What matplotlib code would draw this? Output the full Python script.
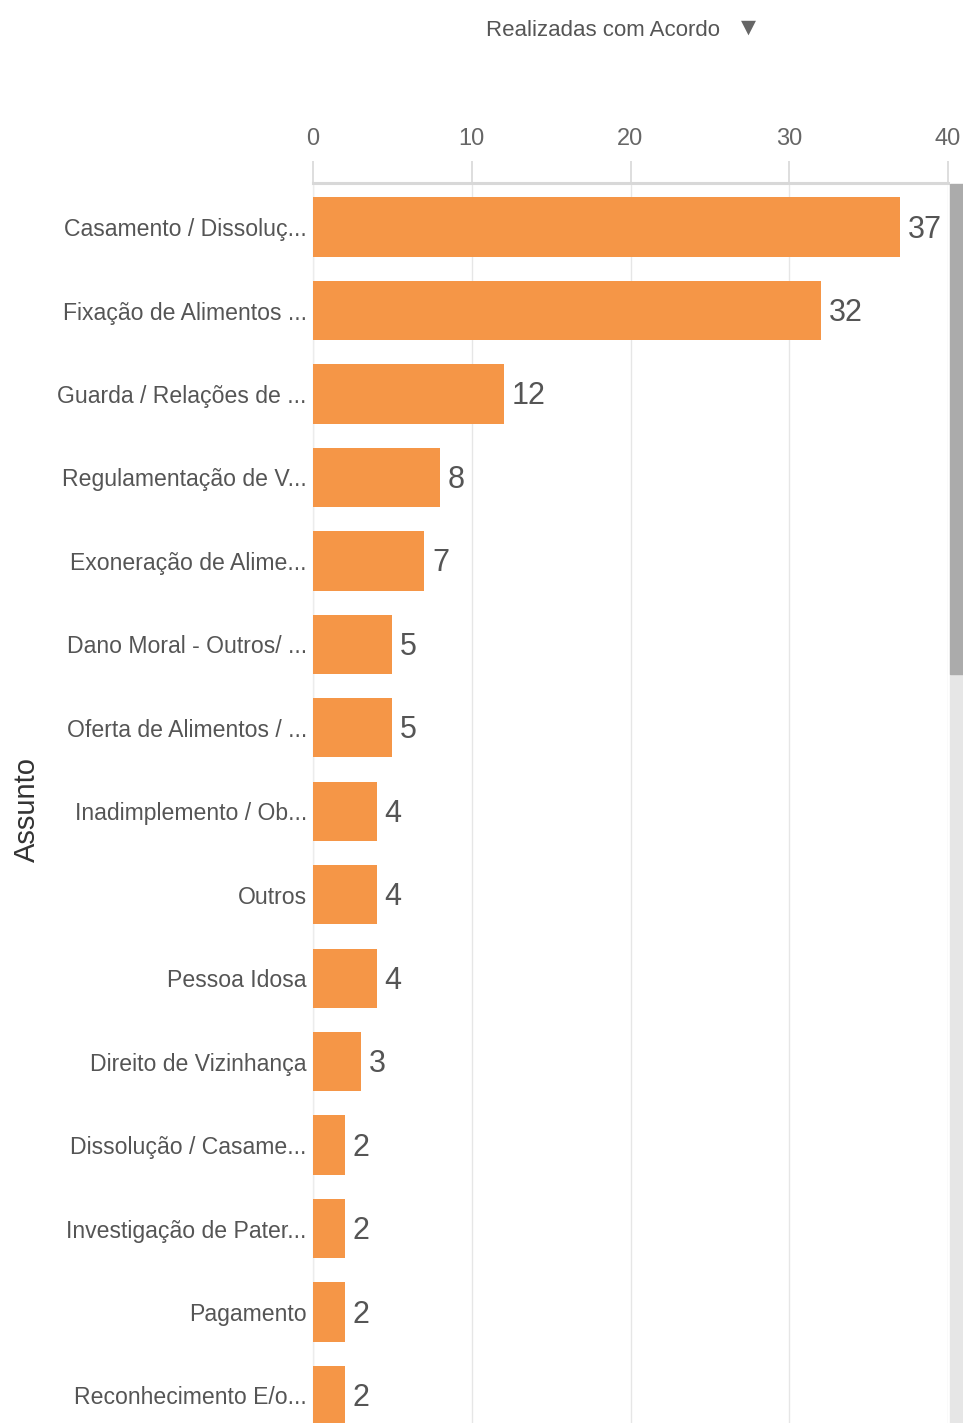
import matplotlib
matplotlib.use("Agg")
import matplotlib.pyplot as plt
from matplotlib import font_manager
from matplotlib.patches import Rectangle

assuntos = [
    "Casamento / Dissoluç...",
    "Fixação de Alimentos ...",
    "Guarda / Relações de ...",
    "Regulamentação de V...",
    "Exoneração de Alime...",
    "Dano Moral - Outros/ ...",
    "Oferta de Alimentos / ...",
    "Inadimplemento / Ob...",
    "Outros",
    "Pessoa Idosa",
    "Direito de Vizinhança",
    "Dissolução / Casame...",
    "Investigação de Pater...",
    "Pagamento",
    "Reconhecimento E/o...",
]
acordos = [37, 32, 12, 8, 7, 5, 5, 4, 4, 4, 3, 2, 2, 2, 2]
xticks = [0, 10, 20, 30, 40]

names = {f.name for f in font_manager.fontManager.ttflist}
narrow = "Liberation Sans Narrow" if "Liberation Sans Narrow" in names else "Liberation Sans"
fam = [narrow, "DejaVu Sans"]
plt.rcParams["font.family"] = fam

W, H = 963, 1423
fig = plt.figure(figsize=(W / 100, H / 100), dpi=100)

# axes: x 0 at px 313, 40 at px 948; top at px 183, bottom at image bottom
ax = fig.add_axes([313 / W, 0, (948 - 313) / W, 1 - 183 / H])

y = list(range(len(assuntos)))
ax.barh(y, acordos, height=0.71, color="#F59647", zorder=3)
ax.set_xlim(0, 40)
ax.set_ylim(14.33, -0.528)

for yi, v in zip(y, acordos):
    ax.text(v + 0.5, yi + 0.03, str(v), va="center", ha="left",
            fontsize=22, color="#555555")

ax.set_yticks(y)
ax.set_yticklabels(assuntos, fontsize=16.6, color="#555555")
ax.tick_params(axis="y", length=0, pad=4.5)

ax.xaxis.tick_top()
ax.set_xticks(xticks)
ax.set_xticklabels([str(t) for t in xticks], fontsize=17, color="#666666")
ax.tick_params(axis="x", length=16, width=1.2, color="#d8d8d8", pad=8)

ax.grid(axis="x", color="#e6e6e6", linewidth=1, zorder=0)
for s in ["right", "bottom"]:
    ax.spines[s].set_visible(False)
ax.spines["top"].set_color("#d8d8d8")
ax.spines["top"].set_linewidth(2.2)
ax.spines["left"].set_color("#ececec")
ax.spines["left"].set_linewidth(1)

fig.text(27 / W, 1 - 810 / H, "Assunto", rotation=90, ha="center", va="center",
         fontsize=21, color="#333333")
fig.text(603 / W, 1 - 30 / H, "Realizadas com Acordo", ha="center", va="center",
         fontsize=16, color="#555555")
fig.text(748 / W, 1 - 27 / H, "▼", ha="center", va="center",
         fontsize=14, color="#666666", family="DejaVu Sans")

# scrollbar
fig.patches.append(Rectangle((950 / W, 0), 13 / W, 1 - 674 / H,
                             transform=fig.transFigure, color="#e6e6e6"))
fig.patches.append(Rectangle((950 / W, 1 - 674 / H), 13 / W, (674 - 184) / H,
                             transform=fig.transFigure, color="#ababab"))

fig.savefig("out.png", dpi=100)
